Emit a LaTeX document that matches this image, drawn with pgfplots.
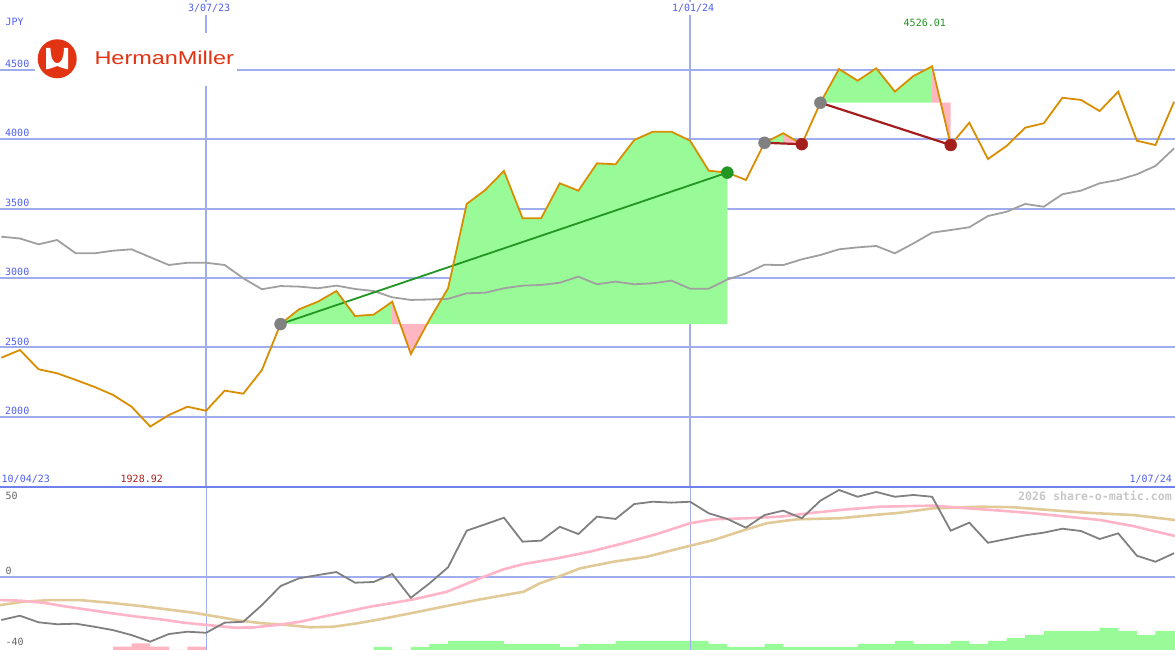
\documentclass[border=0pt]{standalone}
\usepackage{fontspec}
\setmonofont{DejaVu Sans Mono}
\newfontfamily\logofont{Liberation Sans}
\usepackage{pgfplots}
\usepackage{pgfplotstable}
\pgfplotsset{compat=1.18}

\definecolor{gridblue}{RGB}{160,172,240}
\definecolor{labelblue}{RGB}{80,96,240}
\definecolor{sepblue}{RGB}{112,128,236}
\definecolor{priceorange}{RGB}{216,142,0}
\definecolor{benchgray}{RGB}{160,160,160}
\definecolor{palegreen}{RGB}{152,251,152}
\definecolor{lightpink}{RGB}{255,182,193}
\definecolor{wingreen}{RGB}{34,150,34}
\definecolor{lossred}{RGB}{165,30,30}
\definecolor{oscgray}{RGB}{128,128,128}
\definecolor{oscpink}{RGB}{255,180,200}
\definecolor{osctan}{RGB}{225,202,152}
\definecolor{logored}{RGB}{226,52,18}

% weekly closes, x = weeks from 3/07/23
\pgfplotstableread{
w p
-11 2425
-10 2481
-9 2342
-8 2313
-7 2265
-6 2215
-5 2157
-4 2072
-3 1928.92
-2 2012
-1 2072
0 2043
1 2188
2 2166
3 2337
4 2668
5 2775
6 2829
7 2906
8 2726
9 2736
10 2829
11 2452
12 2700
13 2926
14 3534
15 3635
16 3772
17 3431
18 3431
19 3683
20 3630
21 3827
22 3820
23 3995
24 4055
25 4055
26 3990
27 3774
28 3760
29 3707
30 3975
31 4044
32 3965
33 4264
34 4507
35 4423
36 4512
37 4344
38 4457
39 4526.01
40 3959
41 4120
42 3858
43 3952
44 4084
45 4116
46 4300
47 4284
48 4204
49 4344
50 3990
51 3959
52 4271
}\price

% benchmark, rescaled
\pgfplotstableread{
w p
-11 3298
-10 3285
-9 3243
-8 3274
-7 3178
-6 3178
-5 3197
-4 3207
-3 3150
-2 3094
-1 3110
0 3110
1 3094
2 2998
3 2919
4 2942
5 2938
6 2926
7 2945
8 2921
9 2906
10 2861
11 2842
12 2845
13 2850
14 2890
15 2894
16 2926
17 2945
18 2950
19 2966
20 3010
21 2955
22 2974
23 2955
24 2962
25 2981
26 2923
27 2923
28 2989
29 3033
30 3096
31 3093
32 3135
33 3166
34 3207
35 3221
36 3231
37 3178
38 3250
39 3327
40 3346
41 3366
42 3447
43 3478
44 3534
45 3514
46 3604
47 3630
48 3683
49 3707
50 3748
51 3808
52 3935
}\bench

\pgfplotstableread{
w v
-11 -24.2
-10 -21.8
-9 -25.5
-8 -26.6
-7 -26.3
-6 -28.0
-5 -29.9
-4 -32.7
-3 -36.4
-2 -32.1
-1 -30.8
0 -31.4
1 -25.7
2 -25.2
3 -15.8
4 -5.1
5 -0.7
6 1.1
7 2.8
8 -3.2
9 -2.8
10 1.7
11 -11.7
12 -3.6
13 5.5
14 26.1
15 29.7
16 33.4
17 19.9
18 20.5
19 28.3
20 24.2
21 34.0
22 32.7
23 41.1
24 42.4
25 41.9
26 42.4
27 35.9
28 32.7
29 27.8
30 34.9
31 37.4
32 33.1
33 43.0
34 49.0
35 45.2
36 47.9
37 45.2
38 46.2
39 45.2
40 26.1
41 30.6
42 19.3
43 21.4
44 23.5
45 25.0
46 27.2
47 25.9
48 21.4
49 24.6
50 12.0
51 8.6
52 13.4
}\osc

\pgfplotstableread{
w v
-11.07 -13.0
-9.99 -13.3
-8.74 -14.5
-7.48 -16.7
-6.23 -18.6
-5.0 -20.5
-3.72 -22.3
-2.47 -23.8
-1.21 -25.7
0.04 -27.0
1.47 -28.5
2.54 -28.4
3.80 -27.0
5.05 -25.2
6.30 -22.3
7.56 -19.5
8.81 -16.7
9.35 -15.8
11.14 -12.6
12.93 -8.3
14.72 -0.7
15.97 4.3
17.05 7.3
18.84 10.5
20.63 14.3
22.42 19.0
24.21 24.2
26.0 30.3
27.25 32.5
29.05 33.1
30.84 34.0
32.62 36.2
34.42 38.1
36.21 39.6
39.07 40.2
40.87 38.7
42.65 37.4
44.43 35.9
46.24 34.0
48.03 32.1
49.80 28.7
51.07 25.5
52.05 23.1
}\oscfast

\pgfplotstableread{
w v
-11.07 -15.8
-9.81 -13.9
-8.38 -13.0
-6.77 -13.0
-5.16 -14.5
-3.55 -16.3
-2.11 -18.2
-0.68 -20.1
0.57 -22.3
1.83 -24.6
3.08 -26.1
4.34 -27.0
5.59 -28.3
6.84 -28.0
8.10 -26.1
9.35 -23.8
11.14 -20.1
12.93 -16.3
14.72 -12.6
17.05 -8.3
17.94 -3.5
18.84 -0.2
20.09 4.9
21.88 8.6
23.67 11.4
25.46 16.2
27.25 20.8
29.05 26.9
30.12 30.3
31.73 32.5
34.06 33.1
35.85 34.9
37.28 36.2
39.07 38.7
41.58 39.6
43.35 39.3
45.34 37.7
47.31 36.2
49.81 34.9
52.05 32.1
}\oscslow

\begin{document}
\begin{tikzpicture}
\path[use as bounding box] (0pt,0pt) rectangle (1175pt,650pt);

% ---- histogram strip at the foot of the lower panel
\begin{axis}[at={(0pt,0pt)}, anchor=south west, scale only axis,
  width=1175pt, height=163pt, xmin=-11.07, xmax=52.05, ymin=0, ymax=163,
  hide axis]
\addplot[ybar interval, fill=lightpink, draw=none] coordinates {
  (-5,3.3) (-4,6.7) (-3,3.3) (-2,0) (-1,3.3) (0,0)};
\addplot[ybar interval, fill=palegreen, draw=none] coordinates {
  (9,3) (10,0) (11,3) (12,6) (13,9) (14,9) (15,9) (16,6) (17,6) (18,6)
  (19,3) (20,6) (21,6) (22,9) (23,9) (24,9) (25,9) (26,9) (27,6) (28,3)
  (29,3) (30,6) (31,3) (32,3) (33,3) (34,3) (35,6) (36,6) (37,9) (38,6)
  (39,6) (40,9) (41,6) (42,9) (43,12) (44,15) (45,19) (46,19) (47,19)
  (48,22) (49,19) (50,15) (51,19) (52.1,0)};
\end{axis}

% ---- lower panel: oscillator
\begin{axis}[at={(0pt,0pt)}, anchor=south west, scale only axis,
  width=1175pt, height=163pt, xmin=-11.07, xmax=52.05, ymin=-41.1, ymax=50.7,
  axis line style={draw=none}, tick style={draw=none},
  xtick={0,26}, ytick={0}, xticklabels={}, yticklabels={},
  xmajorgrids, ymajorgrids,
  major x grid style={draw=gridblue, line width=1pt},
  major y grid style={draw=gridblue, line width=2pt}]
\addplot[osctan, line width=2.6pt] table[x=w, y=v] {\oscslow};
\addplot[oscpink, line width=2.6pt] table[x=w, y=v] {\oscfast};
\addplot[oscgray, line width=1.8pt] table[x=w, y=v] {\osc};
\end{axis}

% ---- upper panel: price
\begin{axis}[at={(0pt,163pt)}, anchor=south west, scale only axis,
  width=1175pt, height=487pt, xmin=-11.07, xmax=52.05, ymin=1493.1, ymax=5004.8,
  axis line style={draw=none}, tick style={draw=none},
  xtick={0,26}, xticklabels={3/07/23,1/01/24}, xticklabel pos=right,
  ytick={2000,2500,3000,3500,4000,4500},
  yticklabels={2000,2500,3000,3500,4000,4500},
  ticklabel style={font=\ttfamily\fontsize{10}{12}\selectfont, text=labelblue},
  xticklabel style={anchor=north, fill=white, inner sep=2pt, yshift=-2pt, xshift=3pt},
  yticklabel style={anchor=south west, inner sep=0pt, xshift=5pt, yshift=2pt},
  xmajorgrids, ymajorgrids,
  major x grid style={draw=gridblue, line width=1.5pt},
  major y grid style={draw=gridblue, line width=2pt}]
% trade 1 fills
\addplot[fill=palegreen, draw=none] coordinates {
  (4,2668) (5,2775) (6,2829) (7,2906) (8,2726) (9,2736) (10,2829) (10.427,2668)} -- cycle;
\addplot[fill=lightpink, draw=none] coordinates {
  (10,2668) (10,2829) (11,2452) (11.871,2668)} -- cycle;
\addplot[fill=palegreen, draw=none] coordinates {
  (11.871,2668) (12,2700) (13,2926) (14,3534) (15,3635) (16,3772) (17,3431)
  (18,3431) (19,3683) (20,3630) (21,3827) (22,3820) (23,3995) (24,4055)
  (25,4055) (26,3990) (27,3774) (28,3760) (28,2668)} -- cycle;
% trade 2 fills
\addplot[fill=palegreen, draw=none] coordinates {(30,3975) (31,4044) (31,3975)} -- cycle;
\addplot[fill=lightpink, draw=none] coordinates {(31,3975) (31,4044) (32,3965) (32,3975)} -- cycle;
% trade 3 fills
\addplot[fill=palegreen, draw=none] coordinates {
  (33,4264) (34,4507) (35,4423) (36,4512) (37,4344) (38,4457) (39,4526.01) (39,4264)} -- cycle;
\addplot[fill=lightpink, draw=none] coordinates {
  (39,4264) (39,4526.01) (40,3959) (40,4264)} -- cycle;

\addplot[benchgray, line width=1.8pt] table[x=w, y=p] {\bench};
\addplot[wingreen, line width=1.8pt] coordinates {(4,2668) (28,3760)};
\addplot[lossred, line width=2.2pt] coordinates {(30,3975) (32,3965)};
\addplot[lossred, line width=2.2pt] coordinates {(33,4264) (40,3959)};
\addplot[priceorange, line width=1.8pt] table[x=w, y=p] {\price};

\addplot[only marks, mark=*, mark size=6pt, draw=oscgray, fill=oscgray]
  coordinates {(4,2668) (30,3975) (33,4264)};
\addplot[only marks, mark=*, mark size=6pt, draw=wingreen, fill=wingreen]
  coordinates {(28,3760)};
\addplot[only marks, mark=*, mark size=6pt, draw=lossred, fill=lossred]
  coordinates {(32,3965) (40,3959)};
\end{axis}

% panel separator
\draw[sepblue, line width=2pt] (0pt,163pt) -- (1175pt,163pt);

% text
\begin{scope}[every node/.style={inner sep=0pt, font=\ttfamily\fontsize{10}{12}\selectfont}]
\node[anchor=west, text=labelblue] at (5.5pt,628.5pt) {JPY};
\node[anchor=west, text=wingreen] at (903.5pt,627.5pt) {4526.01};
\node[anchor=west, text=labelblue] at (1.5pt,171pt) {10/04/23};
\node[anchor=west, text=lossred] at (120.5pt,171pt) {1928.92};
\node[anchor=east, text=labelblue] at (1172pt,171pt) {1/07/24};
\node[anchor=west, text=black!60] at (5.5pt,154pt) {50};
\node[anchor=west, text=black!60] at (5.5pt,79pt) {0};
\node[anchor=west, text=black!60] at (5.5pt,8pt) {-40};
\node[anchor=east, text=black!22, font=\ttfamily\bfseries\fontsize{11.6}{13}\selectfont]
  at (1172pt,154.3pt) {2026 share-o-matic.com};
\end{scope}

% logo
\fill[white] (35pt,564pt) rectangle (237pt,617pt);
\fill[logored] (57.2pt,591.2pt) circle (19.5pt);
\fill[white] (46.2pt,602pt) -- (50.4pt,602pt)
  .. controls (50.8pt,592pt) and (53pt,587pt) .. (57.2pt,586.8pt)
  .. controls (61.4pt,587pt) and (63.6pt,592pt) .. (64pt,602pt)
  -- (68.2pt,602pt) -- (68.2pt,580.6pt)
  .. controls (64pt,581.4pt) and (60.5pt,582.6pt) .. (57.2pt,584pt)
  .. controls (53.9pt,582.6pt) and (50.4pt,581.4pt) .. (46.2pt,580.6pt) -- cycle;
\node[anchor=base west, inner sep=0pt, text=logored, xscale=1.26,
  font=\logofont\fontsize{18.6}{20}\selectfont] at (94.3pt,585pt) {HermanMiller};
\end{tikzpicture}
\end{document}
